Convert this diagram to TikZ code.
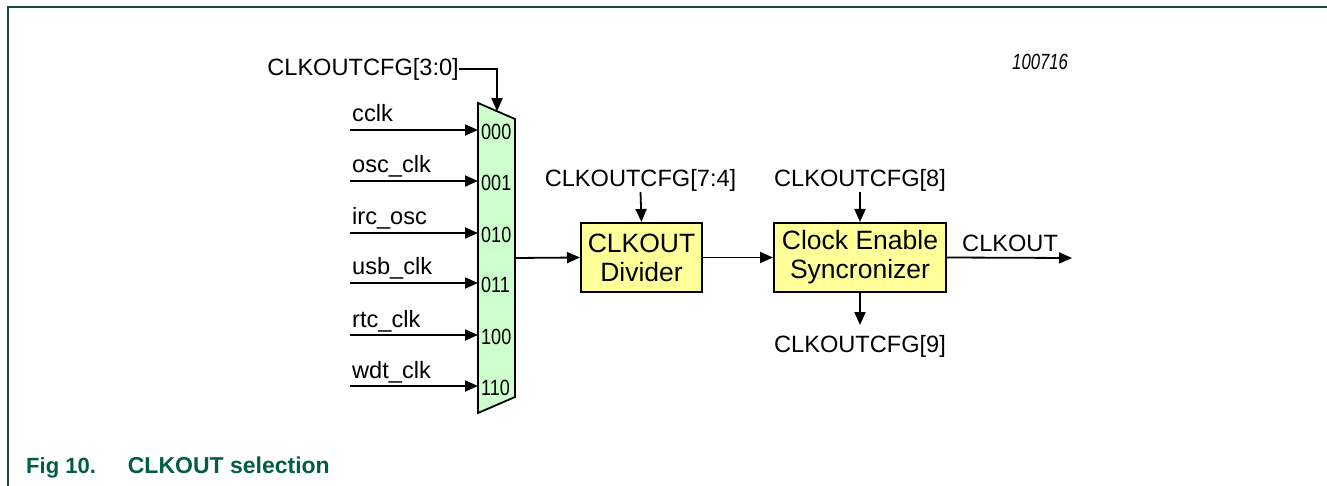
\documentclass[tikz,border=0pt]{standalone}
\usepackage{fontspec}
\setmainfont{Liberation Sans}
\newfontfamily\narrowfont[FakeStretch=0.82]{Liberation Sans}
\newfontfamily\idfont[FakeStretch=0.76]{Liberation Sans}
\usetikzlibrary{arrows.meta}
\definecolor{nxpgreen}{RGB}{0,94,72}
\definecolor{framecol}{RGB}{28,72,56}
\definecolor{muxfill}{RGB}{204,255,204}
\definecolor{boxfill}{RGB}{255,255,153}
\begin{document}
\begin{tikzpicture}[x=1pt,y=-1pt,
  lbl/.style={inner sep=0pt, font=\fontsize{23.6}{28}\selectfont},
  sel/.style={inner sep=0pt, anchor=west, font=\narrowfont\fontsize{22}{24}\selectfont},
  arr/.style={line width=1.8pt, -{Triangle[length=13pt,width=11pt]}},
  blk/.style={draw, line width=2pt, fill=boxfill, minimum height=69pt, align=center, inner sep=0pt, font=\fontsize{26.5}{29}\selectfont}]
\useasboundingbox (0,0) rectangle (1327,486);
% frame
\draw[framecol, line width=2pt] (8,486) -- (8,7) -- (1327,7);
% id
\node[inner sep=0pt, anchor=base west, font=\idfont\itshape\fontsize{22}{24}\selectfont] (fid) at (1012,70) {100716};
% mux
\draw[line width=1.8pt, fill=muxfill, line join=miter] (478,103) -- (515,119) -- (515,397) -- (478,413) -- cycle;
\coordinate (mtop) at (497,111.2);
\coordinate (mout) at (515,258);
\node[lbl, anchor=east] (cfg30) at (459,69) {CLKOUTCFG[3:0]};
\draw[arr] (cfg30.east) -| (mtop);
% inputs
\foreach \y/\name/\txt/\code in {130/a/cclk/000, 181/b/osc\_clk/001, 233/c/irc\_osc/010, 283/d/usb\_clk/011, 335/e/rtc\_clk/100, 386/f/wdt\_clk/110}{
  \coordinate (in\name) at (350,\y);
  \coordinate (mi\name) at (478,\y);
  \node[lbl, anchor=base west] (lab\name) at (352,\y-8) {\txt};
  \node[sel] (code\name) at (481,\y+1.5) {\code};
  \draw[arr] (in\name) -- (mi\name);
}
% blocks
\node[blk, minimum width=121pt] (div) at (641.5,257.5) {CLKOUT\\Divider};
\node[blk, minimum width=172pt] (sync) at (860,257.5) {Clock Enable\\Syncronizer};
\draw[arr] (mout) -- (div.west);
\draw[arr] (div.east) -- (sync.west);
\node[lbl, anchor=base] (cfg74) at (640.5,187) {CLKOUTCFG[7:4]};
\node[lbl, anchor=base] (cfg8) at (860,187) {CLKOUTCFG[8]};
\node[lbl, anchor=base] (cfg9) at (860,352) {CLKOUTCFG[9]};
\coordinate (cfg9tip) at (860,325);
\draw[arr] (cfg74.south) -- (div.north);
\draw[arr] (cfg8.south) -- (sync.north);
\draw[arr] (sync.south) -- (cfg9tip);
\coordinate (outtip) at (1072,258);
\draw[arr] (sync.east) -- (outtip);
\node[lbl, anchor=base west] (clkout) at (962,252) {CLKOUT};
% caption
\node[inner sep=0pt, anchor=base west, text=nxpgreen, font=\bfseries\fontsize{22}{26}\selectfont] (cap) at (26,473) {Fig 10.\hspace{32pt}{\fontsize{23}{26}\selectfont CLKOUT selection}};
\end{tikzpicture}
\end{document}
